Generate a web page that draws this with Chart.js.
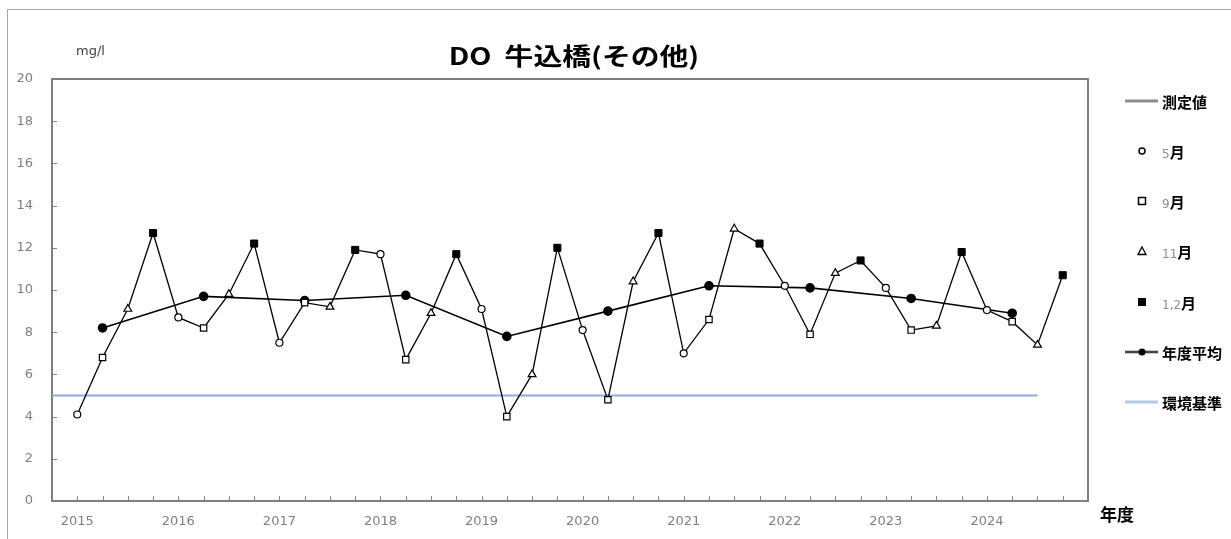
<!DOCTYPE html>
<html>
<head>
<meta charset="utf-8">
<script src="https://cdn.jsdelivr.net/npm/chart.js@4/dist/chart.umd.min.js"></script>
<style>
  body { margin: 0; background: #fff; }
  #wrap { position: relative; width: 1231px; height: 539px; overflow: hidden; font-family: "Noto Sans CJK JP", sans-serif; }
  #outer { position: absolute; left: 7px; top: 9px; width: 1300px; height: 600px; border-left: 1px solid #a6a6a6; border-top: 1px solid #a6a6a6; }
  canvas { position: absolute; left: 0; top: 0; }
  .abs { position: absolute; white-space: nowrap; }
  #title { left: 574px; top: 54px; font-size: 24px; font-weight: bold; color: #000; transform: translate(-50%, -50%) scaleX(1.2); }
  #unit { left: 76px; top: 50px; font-family: "DejaVu Sans"; font-size: 13px; color: #404040; transform: translateY(-50%); }
  #xname { left: 1100px; top: 513px; font-size: 17px; font-weight: bold; transform: translateY(-50%); }
  .leg { position: absolute; left: 1120px; height: 20px; width: 110px; transform: translateY(-50%); }
  .leg svg { position: absolute; left: 0; top: 0; }
  .leg span { position: absolute; left: 42px; top: 50%; transform: translateY(-50%); font-size: 15px; font-weight: bold; color: #000; }
  .leg span i { font-style: normal; font-weight: normal; color: #8c8c8c; font-family: "DejaVu Sans"; font-size: 12px; }
</style>
</head>
<body>
<div id="wrap">
  <div id="outer"></div>
  <canvas id="myCanvas" width="1231" height="539"></canvas>
  <div class="abs" id="title">DO&nbsp;&nbsp;牛込橋(その他)</div>
  <div class="abs" id="unit">mg/l</div>
  <div class="abs" id="xname">年度</div>
  <div id="legend"></div>
</div>
<script>
// 年度
const years = ['2015', '2016', '2017', '2018', '2019', '2020', '2021', '2022', '2023', '2024'];

// 測定値 (mg/l) 各年度の月別
const may = [4.1, 8.7, 7.5, 11.7, 9.1, 8.1, 7.0, 10.2, 10.1, 9.05];
const sep = [6.8, 8.2, 9.4, 6.7, 4.0, 4.8, 8.6, 7.9, 8.1, 8.5];
const nov = [9.1, 9.8, 9.2, 8.9, 6.0, 10.4, 12.9, 10.8, 8.3, 7.4];
const janFeb = [12.7, 12.2, 11.9, 11.7, 12.0, 12.7, 12.2, 11.4, 11.8, 10.7];

// 年度平均
const yearAvg = [8.2, 9.7, 9.5, 9.75, 7.8, 9.0, 10.2, 10.1, 9.6, 8.9];

// 環境基準
const standard = 5;

const yTicks = [0, 2, 4, 6, 8, 10, 12, 14, 16, 18, 20];

// 1年度 = 4つの測定 (5月, 9月, 11月, 1,2月)
const monthSeries = [may, sep, nov, janFeb];
const pts = function(arr, k) {
  return arr.map(function(v, i) { return { x: i * 4 + k, y: v }; });
};
const measured = [];
years.forEach(function(y, i) {
  monthSeries.forEach(function(arr, k) { measured.push({ x: i * 4 + k, y: arr[i] }); });
});
const lastX = years.length * 4;
const stdLine = [{ x: -1, y: standard }, { x: (years.length - 1) * 4 + 2, y: standard }];

// 枠と内向きの目盛り
const frame = {
  id: 'frame',
  beforeDatasetsDraw(chart) {
    const ctx = chart.ctx, a = chart.chartArea, sx = chart.scales.x, sy = chart.scales.y;
    ctx.save();
    ctx.strokeStyle = '#868686';
    ctx.lineWidth = 1;
    ctx.beginPath();
    for (let i = 0; i < lastX; i++) {
      const px = Math.round(sx.getPixelForValue(i)) + 0.5;
      ctx.moveTo(px, a.bottom);
      ctx.lineTo(px, a.bottom - 5);
    }
    yTicks.slice(1, -1).forEach(function(v) {
      const py = Math.round(sy.getPixelForValue(v)) + 0.5;
      ctx.moveTo(a.left, py);
      ctx.lineTo(a.left + 5, py);
    });
    ctx.stroke();
    ctx.lineWidth = 2;
    ctx.strokeStyle = '#7f7f7f';
    ctx.strokeRect(a.left, a.top, a.right - a.left, a.bottom - a.top);
    ctx.restore();
  }
};

const tickFont = { family: 'DejaVu Sans', size: 13 };

const ctx = document.getElementById('myCanvas').getContext('2d');
const myChart = new Chart(ctx, {
  type: 'line',
  data: {
    datasets: [
      { label: '環境基準', data: stdLine, borderColor: '#8faadc', borderWidth: 2, pointRadius: 0, order: 7 },
      { label: '測定値', data: measured, borderColor: '#000', borderWidth: 1.3, pointRadius: 0, order: 6 },
      { label: '年度平均', data: pts(yearAvg, 1), borderColor: '#000', borderWidth: 1.6, pointStyle: 'circle', pointRadius: 4, backgroundColor: '#000', order: 5 },
      { label: '5月', data: pts(may, 0), showLine: false, pointStyle: 'circle', pointRadius: 3.5, backgroundColor: '#fff', borderColor: '#000', borderWidth: 1.2, order: 4 },
      { label: '9月', data: pts(sep, 1), showLine: false, pointStyle: 'rect', pointRadius: 4.5, backgroundColor: '#fff', borderColor: '#000', borderWidth: 1.2, order: 3 },
      { label: '11月', data: pts(nov, 2), showLine: false, pointStyle: 'triangle', pointRadius: 4.5, backgroundColor: '#fff', borderColor: '#000', borderWidth: 1.2, order: 2 },
      { label: '1,2月', data: pts(janFeb, 3), showLine: false, pointStyle: 'rect', pointRadius: 5, backgroundColor: '#000', borderColor: '#000', borderWidth: 1, order: 1 }
    ]
  },
  options: {
    responsive: false,
    animation: false,
    devicePixelRatio: 1,
    layout: { padding: { top: 79, right: 143, left: 0, bottom: 0 } },
    plugins: { legend: { display: false }, tooltip: { enabled: false }, title: { display: false } },
    scales: {
      x: {
        type: 'linear', min: -1, max: lastX,
        grid: { display: false, drawTicks: false }, border: { display: false },
        afterFit: function(s) { s.height = 38; },
        ticks: {
          stepSize: 1, autoSkip: false, maxRotation: 0, minRotation: 0, padding: 13,
          color: '#7f7f7f', font: tickFont,
          callback: function(v) {
            return (v >= 0 && v % 4 === 0 && v / 4 < years.length) ? years[v / 4] : '';
          }
        }
      },
      y: {
        min: yTicks[0], max: yTicks[yTicks.length - 1],
        grid: { display: false, drawTicks: false }, border: { display: false },
        afterFit: function(s) { s.width = 52; },
        afterBuildTicks: function(s) { s.ticks = yTicks.map(function(v) { return { value: v }; }); },
        ticks: { padding: 19, color: '#7f7f7f', font: tickFont }
      }
    }
  },
  plugins: [frame]
});

// 凡例
const legendItems = [
  { text: '測定値', svg: '<line x1="5" y1="10" x2="38" y2="10" stroke="#8c8c8c" stroke-width="3"/>' },
  { num: '5', svg: '<circle cx="22" cy="10" r="3" fill="#fff" stroke="#000" stroke-width="1.5"/>' },
  { num: '9', svg: '<rect x="18.5" y="6.5" width="7" height="7" fill="#fff" stroke="#000" stroke-width="1.5"/>' },
  { num: '11', svg: '<polygon points="22,6 26,13.5 18,13.5" fill="#fff" stroke="#000" stroke-width="1.3"/>' },
  { num: '1,2', svg: '<rect x="18" y="6" width="8" height="8" fill="#000"/>' },
  { text: '年度平均', svg: '<line x1="5" y1="10" x2="38" y2="10" stroke="#8c8c8c" stroke-width="3"/><line x1="5" y1="10" x2="38" y2="10" stroke="#000" stroke-width="1"/><circle cx="22" cy="10" r="3.5" fill="#000"/>' },
  { text: '環境基準', svg: '<line x1="5" y1="10" x2="38" y2="10" stroke="#b4c7e7" stroke-width="3"/>' }
];
const legend = document.getElementById('legend');
legendItems.forEach(function(it, i) {
  const d = document.createElement('div');
  d.className = 'leg';
  d.style.top = (100.7 + 50.2 * i) + 'px';
  const label = it.text ? it.text : '<i>' + it.num + '</i>月';
  d.innerHTML = '<svg width="42" height="20">' + it.svg + '</svg><span>' + label + '</span>';
  legend.appendChild(d);
});
</script>
</body>
</html>
